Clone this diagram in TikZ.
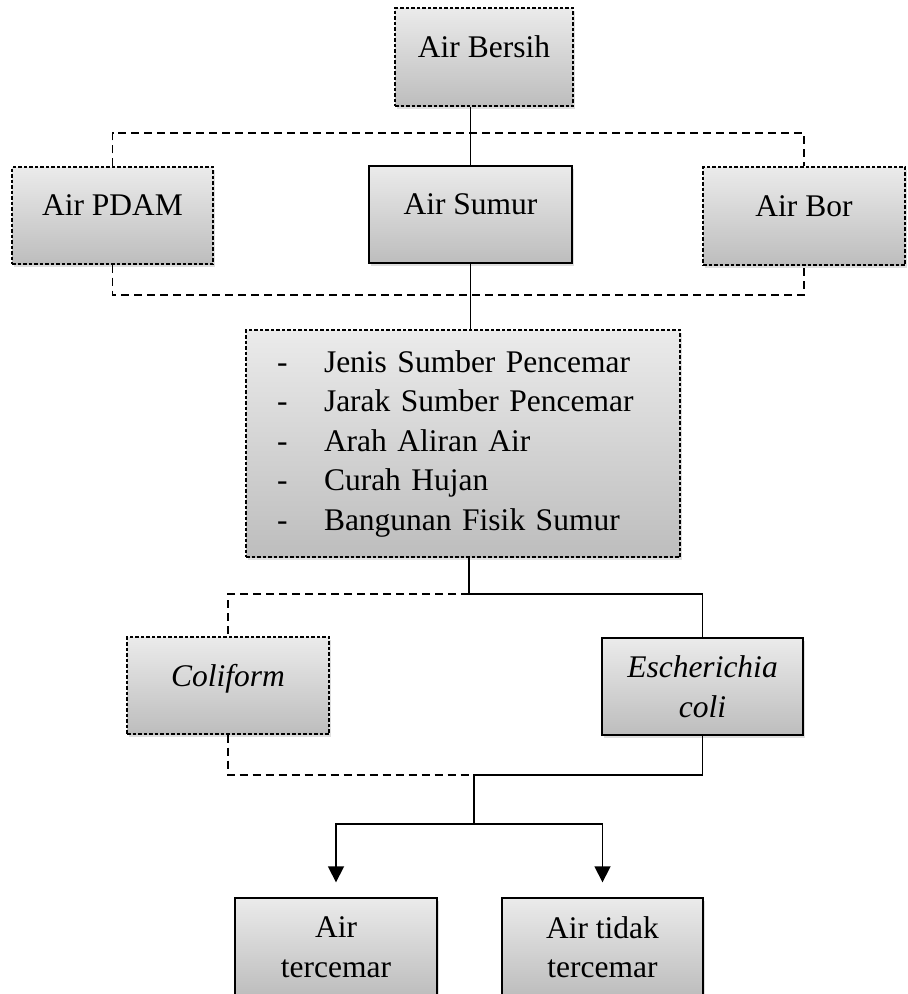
\documentclass[tikz,border=0pt]{standalone}
\usepackage{fontspec}
\setmainfont{Liberation Serif}
\usetikzlibrary{arrows.meta,positioning,shadows,calc}
\definecolor{BoxTop}{HTML}{EBEBEB}
\definecolor{BoxBottom}{HTML}{BDBDBD}

\begin{document}
\begin{tikzpicture}[
    x=1pt, y=-1pt,
    box/.style={draw=black, line width=1.4pt, top color=BoxTop, bottom color=BoxBottom,
      drop shadow={shadow xshift=2pt, shadow yshift=-3pt, opacity=0.25},
      inner sep=0pt, align=center, font=\fontsize{31.5}{39.5}\selectfont},
    dashbox/.style={box, dash pattern=on 3.5pt off 2pt},
    single/.style={text depth=20pt},
    link/.style={draw=black, line width=1.7pt},
    dashlink/.style={link, dash pattern=on 8pt off 5pt},
    arrowlink/.style={link, -{Triangle[width=16pt,length=16pt]}}
  ]
    \useasboundingbox (0,0) rectangle (908,994);
    \clip (0,0) rectangle (908,994);

    \node[dashbox, single, minimum width=178pt, minimum height=98pt] (bersih) at (484,57) {Air Bersih};
    \node[dashbox, single, minimum width=201pt, minimum height=97pt] (pdam) at (112.5,215.5) {Air PDAM};
    \node[box, single, minimum width=203pt, minimum height=97pt] (sumur) at (470.5,214.5) {Air Sumur};
    \node[dashbox, single, minimum width=202pt, minimum height=98pt] (bor) at (804,216) {Air Bor};
    \node[dashbox, minimum width=434pt, minimum height=227pt, text width=372pt, align=left] (faktor) at (463,443.5)
      {\makebox[47pt][l]{-}Jenis Sumber Pencemar\\
       \makebox[47pt][l]{-}Jarak Sumber Pencemar\\
       \makebox[47pt][l]{-}Arah Aliran Air\\
       \makebox[47pt][l]{-}Curah Hujan\\
       \makebox[47pt][l]{-}Bangunan Fisik Sumur};
    \node[dashbox, single, minimum width=202pt, minimum height=97pt] (coliform) at (228,685.5) {\textit{Coliform}};
    \node[box, minimum width=201pt, minimum height=97pt] (ecoli) at (702.5,686.5) {\textit{Escherichia}\\\textit{coli}};
    \node[box, minimum width=202pt, minimum height=98pt] (tercemar) at (336,947) {Air\\tercemar};
    \node[box, minimum width=201pt, minimum height=98pt] (tidak) at (602.5,947) {Air tidak\\tercemar};

    \coordinate (topbar) at (0,133);
    \coordinate (botbar) at (0,295);
    \coordinate (split) at (469,594);
    \coordinate (merge) at (474,775);
    \coordinate (fork) at (474,824);

    \draw[link] (sumur.north) -- (sumur.north |- bersih.south);
    \draw[dashlink] (pdam.north) |- (topbar -| bor.north) -- (bor.north);
    \draw[dashlink] (pdam.south) |- (botbar -| bor.south) -- (bor.south);
    \draw[link] (sumur.south) -- (sumur.south |- faktor.north);
    \draw[link] (faktor.south -| split) -- (split) -| (ecoli.north);
    \draw[dashlink] (split) -| (coliform.north);
    \draw[dashlink] (coliform.south) |- (merge);
    \draw[link] (ecoli.south) |- (merge) -- (fork);
    \draw[arrowlink] (fork) -| ([yshift=15pt]tercemar.north);
    \draw[arrowlink] (fork) -| ([yshift=15pt]tidak.north);
\end{tikzpicture}
\end{document}
